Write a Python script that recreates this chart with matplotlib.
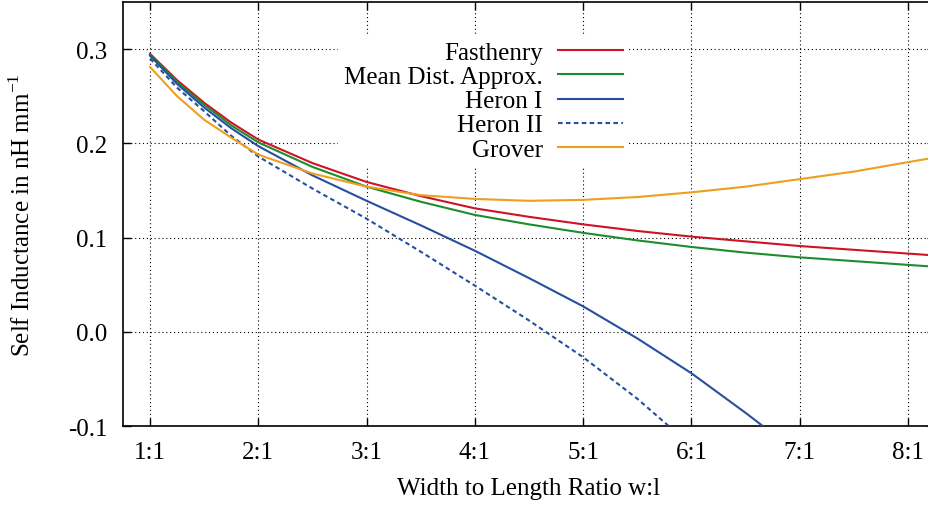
import matplotlib
matplotlib.use("Agg")
import matplotlib.pyplot as plt

plt.rcParams['font.family'] = ['Liberation Serif', 'DejaVu Serif']
plt.rcParams['mathtext.fontset'] = 'custom'
plt.rcParams['mathtext.rm'] = 'Liberation Serif'
plt.rcParams['axes.unicode_minus'] = False

# width to length ratio w:l
ratio = [1.0, 1.25, 1.5, 1.75, 2.0, 2.5, 3.0, 3.5, 4.0, 4.5, 5.0, 5.5, 6.0, 6.5, 7.0, 7.5, 8.0, 8.25]

fasthenry = [0.295, 0.267, 0.243, 0.222, 0.204, 0.179, 0.159, 0.144, 0.131, 0.122,
             0.114, 0.107, 0.101, 0.096, 0.091, 0.087, 0.083, 0.081]
mean_dist = [0.294, 0.265, 0.241, 0.219, 0.201, 0.175, 0.154, 0.138, 0.124, 0.114,
             0.105, 0.097, 0.090, 0.084, 0.079, 0.075, 0.071, 0.069]
grover = [0.281, 0.250, 0.225, 0.206, 0.188, 0.168, 0.154, 0.145, 0.141, 0.139,
          0.140, 0.143, 0.148, 0.154, 0.162, 0.170, 0.180, 0.185]

ratio_h1 = [1.0, 1.25, 1.5, 1.75, 2.0, 2.5, 3.0, 3.5, 4.0, 4.5, 5.0, 5.5, 6.0, 6.5, 7.0]
heron1 = [0.293, 0.263, 0.238, 0.216, 0.197, 0.166, 0.139, 0.113, 0.086, 0.057,
          0.027, -0.007, -0.044, -0.086, -0.130]

ratio_h2 = [1.0, 1.25, 1.5, 1.75, 2.0, 2.5, 3.0, 3.5, 4.0, 4.5, 5.0, 5.5, 6.0]
heron2 = [0.290, 0.259, 0.234, 0.208, 0.186, 0.152, 0.120, 0.085, 0.049, 0.012,
          -0.027, -0.071, -0.121]

xticks = [1, 2, 3, 4, 5, 6, 7, 8]
xlabels = ['1:1', '2:1', '3:1', '4:1', '5:1', '6:1', '7:1', '8:1']
yticks = [-0.1, 0.0, 0.1, 0.2, 0.3]

fs = 18

fig = plt.figure(figsize=(9.29, 5.06), dpi=100)
ax = fig.add_axes([123/929, 1 - 427/506, (935 - 123)/929, (427 - 3)/506])

lw = 1.5
ax.plot(ratio, fasthenry, color='#cc1426', lw=lw, label='Fasthenry', zorder=3)
ax.plot(ratio, mean_dist, color='#1e8c2c', lw=lw, label='Mean Dist. Approx.', zorder=3)
ax.plot(ratio_h1, heron1, color='#2550a0', lw=lw, label='Heron I', zorder=3)
ax.plot(ratio_h2, heron2, color='#2550a0', lw=lw, ls=(0, (2.2, 1.6)), label='Heron II', zorder=3)
ax.plot(ratio, grover, color='#ee9f1e', lw=lw, label='Grover', zorder=3)

ax.set_xlim(0.75, 8.25)
ax.set_ylim(-0.1, 0.35)
ax.set_xticks(xticks)
ax.set_xticklabels(xlabels)
ax.set_yticks(yticks)
ax.set_yticklabels(['%.1f' % v for v in yticks])

ax.grid(True, color='black', ls=(0, (1, 2.5)), lw=0.8, zorder=1)
ax.tick_params(direction='in', length=6, width=1, top=True, right=True,
               labelsize=fs)
ax.tick_params(axis='y', pad=11)
ax.tick_params(axis='x', pad=11)
for s in ax.spines.values():
    s.set_linewidth(1.2)

ax.set_xlabel('Width to Length Ratio w:l', fontsize=fs, labelpad=10)
ax.set_ylabel(r'Self Inductance in nH mm$^{\mathregular{-1}}$', fontsize=fs, labelpad=24)

leg = ax.legend(loc='upper right', bbox_to_anchor=(629/929, 1 - 36/506),
                bbox_transform=fig.transFigure, markerfirst=False, fontsize=fs,
                frameon=True, fancybox=False, handlelength=2.6, handletextpad=0.6,
                labelspacing=0.07, borderpad=0.25, borderaxespad=0)
leg.get_frame().set_edgecolor('none')
leg.get_frame().set_facecolor('white')
leg.get_frame().set_alpha(1)
leg.set_zorder(2)

fig.savefig('out.png', dpi=100)
